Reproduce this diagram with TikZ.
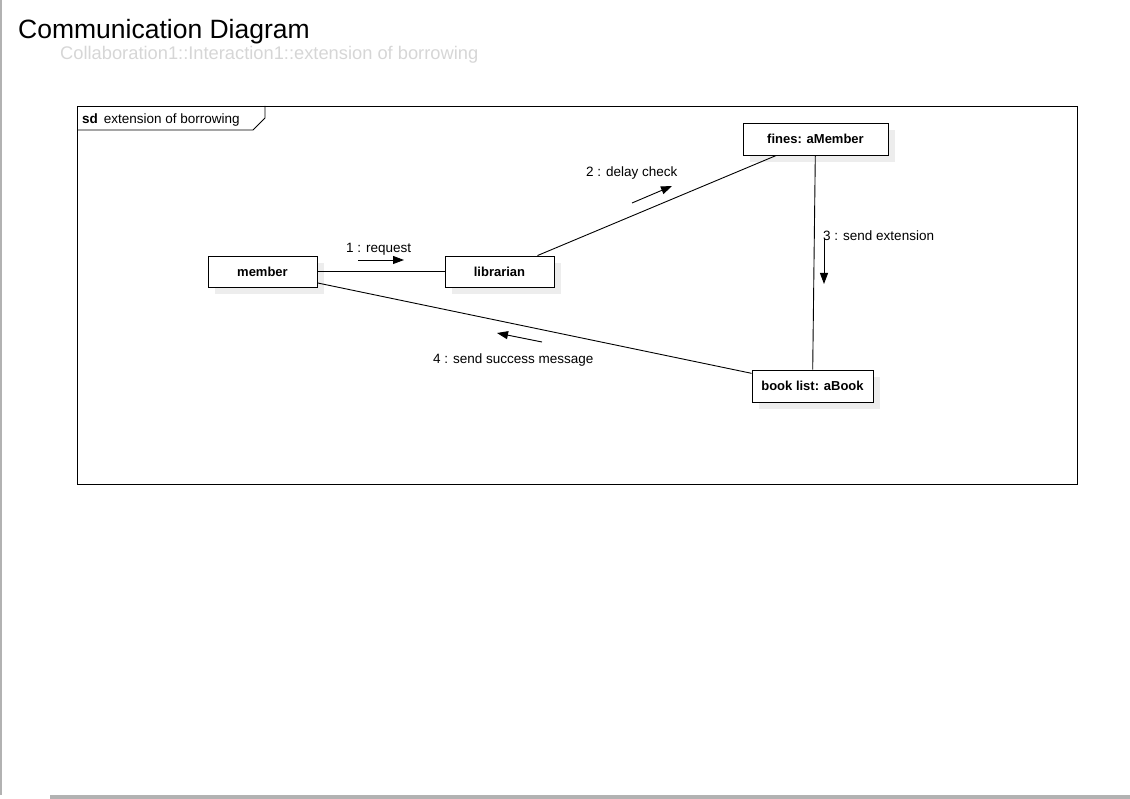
\documentclass[tikz,border=0pt]{standalone}
\usepackage{fontspec}
\setmainfont{Liberation Sans}
\usetikzlibrary{arrows.meta,shadows}

\begin{document}
\begin{tikzpicture}[x=1pt,y=-1pt,
    msg/.style={-{Triangle[length=11pt,width=8pt]}, line width=0.9pt},
    lbl/.style={anchor=base west, font=\fontsize{13.5}{16}\selectfont}]

      \useasboundingbox (0,0) rectangle (1130,799);

      % window edges
      \draw[gray!60, line width=1.5pt] (1,0) -- (1,795);
      \fill[gray!60] (50,795) rectangle (1130,799);

      \node[anchor=base west, inner sep=0, font=\fontsize{26.5}{30}\selectfont] (title) at (18,39) {Communication Diagram};
      \node[anchor=base west, inner sep=0, text=black!16, font=\fontsize{18.3}{20}\selectfont] (sub) at (60,60) {Collaboration1::Interaction1::extension of borrowing};

      % frame
      \draw[line width=0.9pt] (77,106) rectangle (1077,484);
      \draw[line width=0.9pt] (77,130) -- (253,130) -- (265,118) -- (265,106);
      \node[lbl, inner sep=0] (frame) at (82,124) {\textbf{sd}\, extension of borrowing};

      \begin{scope}[every node/.style={draw, line width=0.9pt, fill=white, inner sep=0,
          minimum height=31pt, font=\bfseries\fontsize{13}{15}\selectfont,
          drop shadow={shadow xshift=7pt, shadow yshift=-7pt, fill=black!7, opacity=1}}]
        \node[minimum width=109pt] (1) at (262.5,271.5) {member};
        \node[minimum width=109pt] (2) at (499.5,271.5) {librarian};
        \node[minimum width=145pt, minimum height=32pt] (3) at (815.5,139) {fines: aMember};
        \node[minimum width=121pt, minimum height=32pt] (4) at (812.5,386) {book list: aBook};
      \end{scope}

      \begin{scope}[every edge/.style={draw, line width=0.9pt}]
        \path (1) edge (2);
        \path (2) edge (3);
        \path (3) edge (4);
        \path (1) edge (4);
      \end{scope}

      % messages
      \coordinate (m1a) at (358,260);  \coordinate (m1b) at (404,260);
      \coordinate (m2a) at (632,203);  \coordinate (m2b) at (672,186);
      \coordinate (m3a) at (824,238);  \coordinate (m3b) at (824,284);
      \coordinate (m4a) at (542,342);  \coordinate (m4b) at (497,333);

      \draw[msg] (m1a) -- (m1b);
      \draw[msg] (m2a) -- (m2b);
      \draw[msg] (m3a) -- (m3b);
      \draw[msg] (m4a) -- (m4b);

      \node[lbl, inner sep=0] (l1) at (346,253) {1 : request};
      \node[lbl, inner sep=0] (l2) at (586,177) {2 : delay check};
      \node[lbl, inner sep=0] (l3) at (823,241) {3 : send extension};
      \node[lbl, inner sep=0] (l4) at (433,364) {4 : send success message};

    \end{tikzpicture}
\end{document}
